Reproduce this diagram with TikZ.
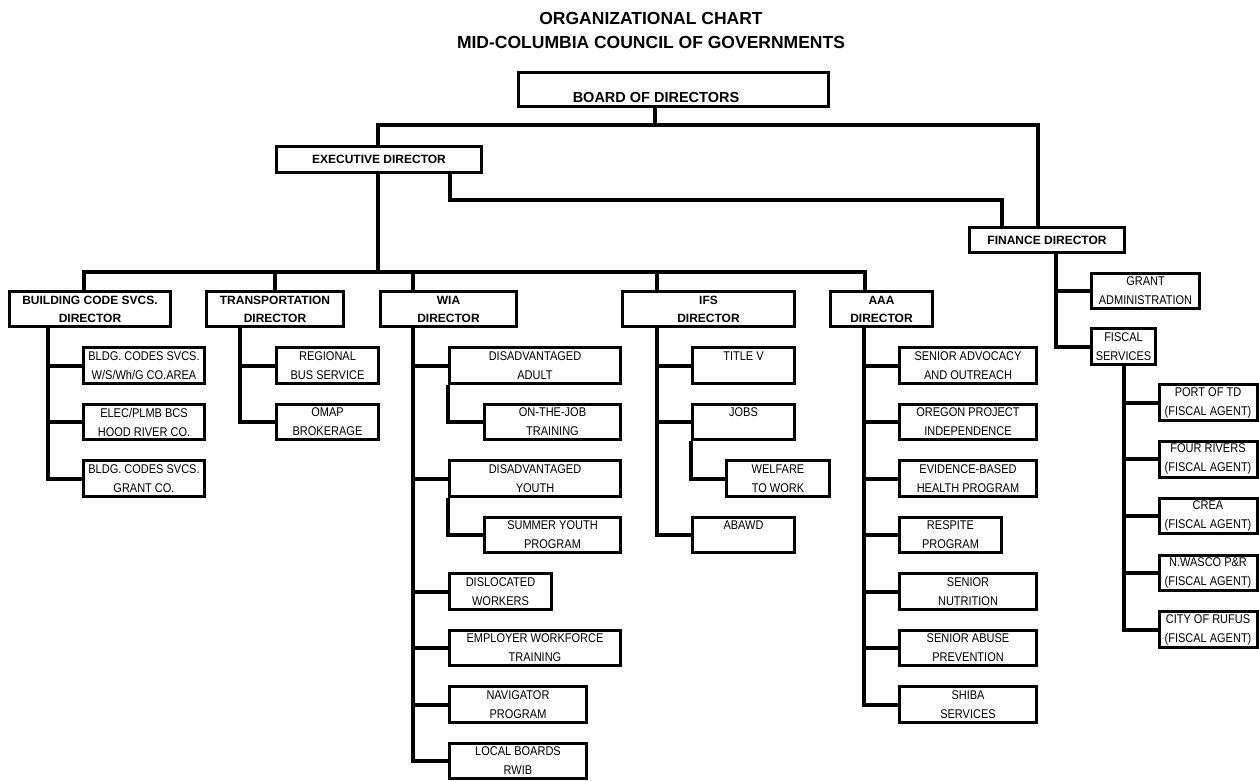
\documentclass[tikz,border=0pt]{standalone}
\usepackage{fontspec}
\setmainfont{Liberation Sans}
\usepackage{graphicx}
\newcommand\tl[1]{\scalebox{1}[1.15]{#1}}
\newcommand\two[2]{\tl{#1}\\\tl{#2}}
\tikzset{
 box/.style={draw, line width=3pt, inner sep=1pt, align=center, rectangle},
 dbox/.style={box, font=\fontsize{12}{18}\selectfont\bfseries},
 cbox/.style={box, font=\fontsize{11}{19}\selectfont, minimum height=35.5pt},
 conn/.style={line width=4pt, line join=miter},
 ttl/.style={font=\fontsize{17.5}{21}\selectfont\bfseries, anchor=base, inner sep=0pt},
}
\begin{document}
\begin{tikzpicture}[x=1pt,y=-1pt]
\useasboundingbox (0,0) rectangle (1259,780);
\fill[white] (0,0) rectangle (1259,780);
% titles
\node[ttl] (title1) at (651,24) {ORGANIZATIONAL CHART};
\node[ttl] (title2) at (651,48) {MID-COLUMBIA COUNCIL OF GOVERNMENTS};
% top
\node[box, minimum width=310pt, minimum height=34pt] (board) at (673.5,89.5) {};
\node[font=\fontsize{14.5}{17}\selectfont\bfseries, anchor=base, inner sep=0pt] (boardt) at (656,102) {BOARD OF DIRECTORS};
\node[dbox, minimum width=205pt, minimum height=26pt] (exec) at (379,159.5) {EXECUTIVE DIRECTOR};
\node[dbox, minimum width=155pt, minimum height=25pt] (fin) at (1047,240) {FINANCE DIRECTOR};
% directors
\node[dbox, minimum width=161pt, minimum height=35pt] (bd) at (90,309) {BUILDING CODE SVCS.\\DIRECTOR};
\node[dbox, minimum width=137pt, minimum height=35pt] (td) at (275,309) {TRANSPORTATION\\DIRECTOR};
\node[dbox, minimum width=136pt, minimum height=35pt] (wd) at (448.5,309) {WIA\\DIRECTOR};
\node[dbox, minimum width=172pt, minimum height=35pt] (id) at (708.5,309) {IFS\\DIRECTOR};
\node[dbox, minimum width=102pt, minimum height=35pt] (ad) at (881.5,309) {AAA\\DIRECTOR};
% building code children
\node[cbox, minimum width=121pt] (b1) at (144,365.5) {\two{BLDG. CODES SVCS.}{W/S/Wh/G CO.AREA}};
\node[cbox, minimum width=121pt] (b2) at (144,422) {\two{ELEC/PLMB BCS}{HOOD RIVER CO.}};
\node[cbox, minimum width=121pt] (b3) at (144,478.5) {\two{BLDG. CODES SVCS.}{GRANT CO.}};
% transportation children
\node[cbox, minimum width=102pt] (t1) at (327.5,365.5) {\two{REGIONAL}{BUS SERVICE}};
\node[cbox, minimum width=102pt] (t2) at (327.5,422) {\two{OMAP}{BROKERAGE}};
% WIA children
\node[cbox, minimum width=171pt] (w1) at (535,365.5) {\two{DISADVANTAGED}{ADULT}};
\node[cbox, minimum width=136pt] (w2) at (552.5,422) {\two{ON-THE-JOB}{TRAINING}};
\node[cbox, minimum width=171pt] (w3) at (535,478.5) {\two{DISADVANTAGED}{YOUTH}};
\node[cbox, minimum width=136pt] (w4) at (552.5,535) {\two{SUMMER YOUTH}{PROGRAM}};
\node[cbox, minimum width=102pt] (w5) at (500.5,591.5) {\two{DISLOCATED}{WORKERS}};
\node[cbox, minimum width=171pt] (w6) at (535,648) {\two{EMPLOYER WORKFORCE}{TRAINING}};
\node[cbox, minimum width=137pt] (w7) at (518,704.5) {\two{NAVIGATOR}{PROGRAM}};
\node[cbox, minimum width=137pt] (w8) at (518,761) {\two{LOCAL BOARDS}{RWIB}};
% IFS children
\node[cbox, minimum width=102pt] (i1) at (743.5,365.5) {\two{TITLE V}{\phantom{X}}};
\node[cbox, minimum width=102pt] (i2) at (743.5,422) {\two{JOBS}{\phantom{X}}};
\node[cbox, minimum width=103pt] (i3) at (778,478.5) {\two{WELFARE}{TO WORK}};
\node[cbox, minimum width=102pt] (i4) at (743.5,535) {\two{ABAWD}{\phantom{X}}};
% AAA children
\node[cbox, minimum width=137pt] (a1) at (968,365.5) {\two{SENIOR ADVOCACY}{AND OUTREACH}};
\node[cbox, minimum width=137pt] (a2) at (968,422) {\two{OREGON PROJECT}{INDEPENDENCE}};
\node[cbox, minimum width=137pt] (a3) at (968,478.5) {\two{EVIDENCE-BASED}{HEALTH PROGRAM}};
\node[cbox, minimum width=102pt] (a4) at (950.5,535) {\two{RESPITE}{PROGRAM}};
\node[cbox, minimum width=137pt] (a5) at (968,591.5) {\two{SENIOR}{NUTRITION}};
\node[cbox, minimum width=137pt] (a6) at (968,648) {\two{SENIOR ABUSE}{PREVENTION}};
\node[cbox, minimum width=137pt] (a7) at (968,704.5) {\two{SHIBA}{SERVICES}};
% finance children
\node[cbox, minimum width=108pt, minimum height=35pt] (ga) at (1145.5,291) {\two{GRANT}{ADMINISTRATION}};
\node[cbox, minimum width=64pt, minimum height=36pt] (fs) at (1123.5,346.5) {\two{FISCAL}{SERVICES}};
\node[cbox, minimum width=98pt] (f1) at (1208,402.5) {\two{PORT OF TD}{(FISCAL AGENT)}};
\node[cbox, minimum width=98pt] (f2) at (1208,459.3) {\two{FOUR RIVERS}{(FISCAL AGENT)}};
\node[cbox, minimum width=98pt] (f3) at (1208,516) {\two{CREA}{(FISCAL AGENT)}};
\node[cbox, minimum width=98pt] (f4) at (1208,572.8) {\two{N.WASCO P\&R}{(FISCAL AGENT)}};
\node[cbox, minimum width=98pt] (f5) at (1208,629.6) {\two{CITY OF RUFUS}{(FISCAL AGENT)}};
% top connectors
\coordinate (bj) at (655,125);
\coordinate (busA) at (378,125);
\coordinate (busB) at (1038,125);
\draw[conn] (bj |- board.south) -- (bj);
\draw[conn] (busA |- exec.north) -- (busA) -- (busB) -- (busB |- fin.north);
\coordinate (ef1) at (450,200);
\coordinate (ef2) at (1002,200);
\draw[conn] (ef1 |- exec.south) -- (ef1) -- (ef2) -- (ef2 |- fin.north);
\coordinate (mb) at (378,272);
\draw[conn] (mb |- exec.south) -- (mb);
\coordinate (d1) at (84,272);
\coordinate (d2) at (275,272);
\coordinate (d3) at (413,272);
\coordinate (d4) at (657,272);
\coordinate (d5) at (865,272);
\draw[conn] (d1 |- bd.north) -- (d1) -- (d5) -- (d5 |- ad.north);
\draw[conn] (d2) -- (d2 |- td.north);
\draw[conn] (d3) -- (d3 |- wd.north);
\draw[conn] (d4) -- (d4 |- id.north);
% building trunk
\coordinate (tb) at (48,0);
\draw[conn] (tb |- bd.south) |- (b3.west);
\draw[conn] (tb |- b1.west) -- (b1.west);
\draw[conn] (tb |- b2.west) -- (b2.west);
% transportation trunk
\coordinate (tt) at (240,0);
\draw[conn] (tt |- td.south) |- (t2.west);
\draw[conn] (tt |- t1.west) -- (t1.west);
% WIA trunk
\coordinate (tw) at (413,0);
\draw[conn] (tw |- wd.south) |- (w8.west);
\foreach \n in {w1,w3,w5,w6,w7} \draw[conn] (tw |- \n.west) -- (\n.west);
\draw[conn] (w1.south west) |- (w2.west);
\draw[conn] (w3.south west) |- (w4.west);
% IFS trunk
\coordinate (ti) at (657,0);
\draw[conn] (ti |- id.south) |- (i4.west);
\foreach \n in {i1,i2} \draw[conn] (ti |- \n.west) -- (\n.west);
\draw[conn] (i2.south west) |- (i3.west);
% AAA trunk
\coordinate (ta) at (864,0);
\draw[conn] (ta |- ad.south) |- (a7.west);
\foreach \n in {a1,a2,a3,a4,a5,a6} \draw[conn] (ta |- \n.west) -- (\n.west);
% finance trunk
\coordinate (tf) at (1056,0);
\draw[conn] (tf |- fin.south) |- (fs.west);
\draw[conn] (tf |- ga.west) -- (ga.west);
% fiscal trunk
\draw[conn] (fs.south) |- (f5.west);
\foreach \n in {f1,f2,f3,f4} \draw[conn] (fs.south |- \n.west) -- (\n.west);
\end{tikzpicture}
\end{document}
